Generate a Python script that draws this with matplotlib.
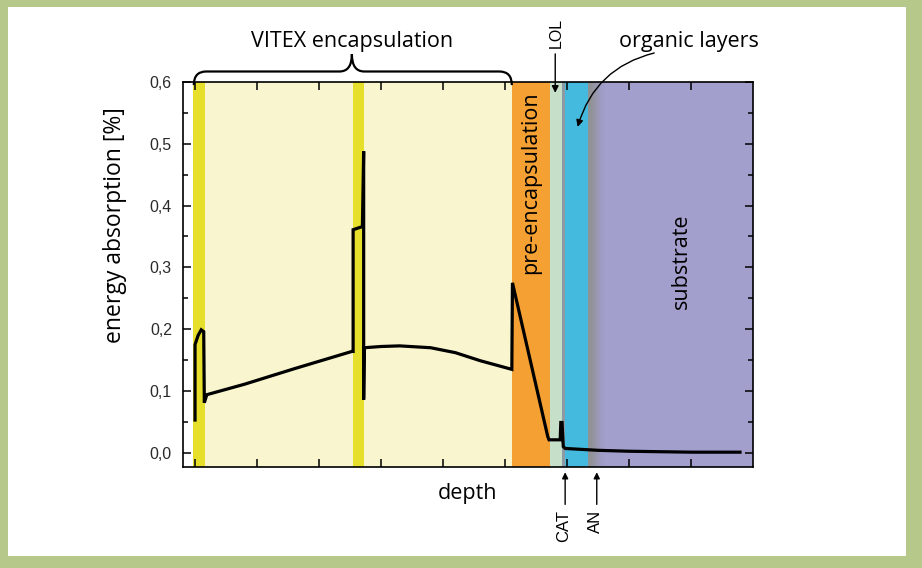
import numpy as np
import matplotlib
matplotlib.use("Agg")
import matplotlib.pyplot as plt
from matplotlib.patches import Rectangle, PathPatch
from matplotlib.path import Path
from matplotlib.ticker import MultipleLocator, FuncFormatter

# layer stack along depth (axis units, one tick = 1)
layer_names = ["VITEX barrier 1", "VITEX polymer 1", "VITEX barrier 2", "VITEX polymer 2",
               "pre-encapsulation", "LOL", "CAT", "organic layers", "AN", "substrate"]
layer_start = [-0.03, 0.16, 2.55, 2.73, 5.11, 5.73, 5.92, 5.97, 6.34, 6.61]
layer_end = [0.16, 2.55, 2.73, 5.11, 5.73, 5.92, 5.97, 6.34, 6.61, 9.0]
layer_colors = ["#e6df2c", "#f9f6cf", "#e6df2c", "#f9f6cf",
                "#f4a033", "#c6dfc8", "#8e9aa3", "#44bade", None, "#a29fcd"]

# energy absorption profile
depth = [0.0, 0.0, 0.05, 0.10, 0.14, 0.15, 0.19, 0.8, 1.6, 2.53,
         2.55, 2.55, 2.70, 2.72, 2.72, 2.73, 3.0, 3.3, 3.8, 4.2,
         4.6, 5.11, 5.12, 5.69, 5.71, 5.89, 5.90, 5.92, 5.94, 5.97,
         6.5, 7.0, 8.0, 8.79]
absorption = [0.053, 0.175, 0.190, 0.199, 0.196, 0.081, 0.094, 0.111, 0.136, 0.164,
              0.164, 0.361, 0.366, 0.488, 0.086, 0.170, 0.172, 0.173, 0.170, 0.162,
              0.149, 0.135, 0.275, 0.026, 0.021, 0.021, 0.049, 0.049, 0.010, 0.007,
              0.004, 0.0025, 0.001, 0.001]

y_ticks = [0.0, 0.1, 0.2, 0.3, 0.4, 0.5, 0.6]
x_ticks = [0, 1, 2, 3, 4, 5, 6, 7, 8]

TEXT_FONT = "Open Sans"
TICK_FONT = "Liberation Sans"
LABEL_SIZE = 15.5

fig = plt.figure(figsize=(9.22, 5.68), dpi=100)
fig.patch.set_facecolor("#b6c98b")
fig.patches.append(Rectangle((8 / 922, 12 / 568), 898 / 922, 549 / 568,
                             transform=fig.transFigure, facecolor="white",
                             edgecolor="none", zorder=-1))

ax = fig.add_axes([183 / 922, 101 / 568, 570 / 922, 385 / 568])
ax.set_facecolor("white")

for name, x0, x1, c in zip(layer_names, layer_start, layer_end, layer_colors):
    if c is None:
        # soft grey transition into the substrate
        grad = np.array([[[0.56, 0.57, 0.57], [0.63, 0.62, 0.80]]])
        ax.imshow(grad, extent=(x0, x1, -0.023, 0.6), aspect="auto",
                  interpolation="bicubic", zorder=1)
    else:
        ax.axvspan(x0, x1, color=c, lw=0, zorder=1)
ax.set_xlim(-0.194, 9.0)
ax.set_ylim(-0.023, 0.6)

ax.plot(depth, absorption, color="black", lw=2.3, zorder=3,
        solid_joinstyle="miter")

ax.set_xticks(x_ticks)
ax.set_xticklabels([])
ax.set_yticks(y_ticks)
ax.yaxis.set_minor_locator(MultipleLocator(0.05))
ax.yaxis.set_major_formatter(FuncFormatter(lambda v, p: f"{v:.1f}".replace(".", ",")))
ax.tick_params(which="both", direction="in", top=True, right=True, width=1.1)
ax.tick_params(which="major", length=6)
ax.tick_params(which="minor", length=3.5)
ax.tick_params(axis="y", labelsize=11.5, pad=8, labelcolor="#2a2a2a")
for lab in ax.get_yticklabels():
    lab.set_fontfamily(TICK_FONT)
for s in ax.spines.values():
    s.set_linewidth(1.2)
    s.set_zorder(4)

ax.text(-0.119, 0.628, "energy absorption [%]", rotation=90, ha="center", va="center",
        fontsize=16.5, family=TEXT_FONT, transform=ax.transAxes)
ax.text(4.39, -0.066, "depth", ha="center", va="center",
        fontsize=LABEL_SIZE, family=TEXT_FONT, clip_on=False)

# brace over the VITEX stack
u0, u1, tip = -0.02, 5.11, 2.53
yb, ym, yt = 0.595, 0.617, 0.645
verts = [(u0, yb), (u0, ym), (u0 + 0.2, ym), (tip - 0.2, ym), (tip, ym), (tip, yt),
         (tip, ym), (tip + 0.2, ym), (u1 - 0.2, ym), (u1, ym), (u1, yb)]
codes = [Path.MOVETO, Path.CURVE3, Path.CURVE3, Path.LINETO, Path.CURVE3, Path.CURVE3,
         Path.CURVE3, Path.CURVE3, Path.LINETO, Path.CURVE3, Path.CURVE3]
ax.add_patch(PathPatch(Path(verts, codes), facecolor="none", edgecolor="black",
                       lw=1.6, clip_on=False, zorder=5))
ax.text(tip, 0.656, "VITEX encapsulation", ha="center", va="baseline",
        fontsize=LABEL_SIZE, family=TEXT_FONT, clip_on=False)

# layer labels
ax.text(5.42, 0.437, "pre-encapsulation", rotation=90, ha="center", va="center",
        fontsize=LABEL_SIZE, family=TEXT_FONT)
ax.text(7.85, 0.31, "substrate", rotation=90, ha="center", va="center",
        fontsize=LABEL_SIZE, family=TEXT_FONT)
ax.text(5.83, 0.655, "LOL", rotation=90, ha="center", va="bottom",
        fontsize=11.5, family=TICK_FONT, clip_on=False)
ax.annotate("", xy=(5.81, 0.578), xytext=(5.81, 0.650),
            arrowprops=dict(arrowstyle="-|>", color="black", lw=1, mutation_scale=10),
            annotation_clip=False)
ax.text(7.97, 0.656, "organic layers", ha="center", va="baseline",
        fontsize=LABEL_SIZE, family=TEXT_FONT, clip_on=False)
ax.annotate("", xy=(6.16, 0.523), xytext=(7.45, 0.648),
            arrowprops=dict(arrowstyle="-|>", color="black", lw=1, mutation_scale=10,
                            connectionstyle="arc3,rad=0.3"),
            annotation_clip=False)

# interface markers under the axis
for xu, lab in [(5.97, "CAT"), (6.48, "AN")]:
    ax.annotate("", xy=(xu, -0.027), xytext=(xu, -0.088),
                arrowprops=dict(arrowstyle="-|>", color="black", lw=1, mutation_scale=9),
                annotation_clip=False)
    ax.text(xu - 0.02, -0.092, lab, rotation=90, ha="center", va="top",
            fontsize=12, family=TICK_FONT, clip_on=False)

fig.savefig("out.png", dpi=100, facecolor=fig.get_facecolor())
